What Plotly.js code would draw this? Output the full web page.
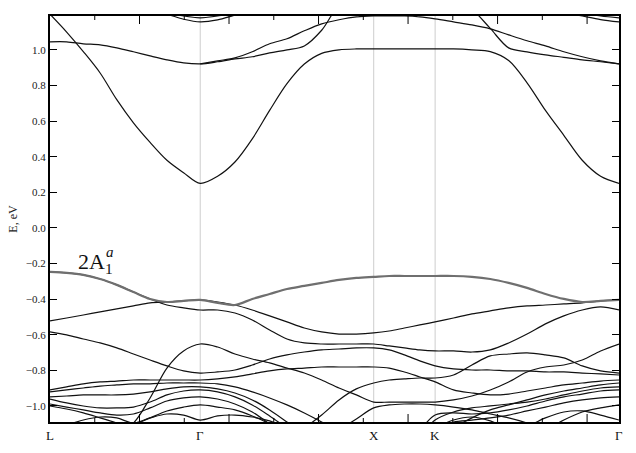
<!DOCTYPE html>
<html>
<head>
<meta charset="utf-8">
<script src="https://cdn.plot.ly/plotly-3.0.1.min.js"></script>
<style>html,body{margin:0;padding:0;background:#fff;}#chart{width:636px;height:453px;}</style>
</head>
<body>
<div id="chart"></div>
<script>
// k-path sample points (L -> Γ -> X -> K -> Γ)
const kGrid = [0,0.096,0.192,0.289,0.385,0.481,0.577,0.674,0.770,0.866,
  0.966,1.066,1.166,1.266,1.366,1.466,1.566,1.666,1.766,1.866,
  1.955,2.043,2.132,2.220,
  2.326,2.432,2.538,2.644,2.750,2.856,2.962,3.068,3.174,3.280];
const kPoints = [0, 0.866, 1.866, 2.220, 3.280];
const kLabels = ['L', 'Γ', 'X', 'K', 'Γ'];
// positions of the plain k-axis tick marks (long and short)
const kMajorTicks = [0.516, 1.032, 1.548, 2.064, 2.580, 3.096];
const kMinorTicks = [0.258, 0.774, 1.290, 1.806, 2.322, 2.838];

// conduction bands (eV)
const C1 = [1.20,1.10,0.99,0.87,0.72,0.59,0.48,0.38,0.31,0.25, 0.29,0.37,0.50,0.66,0.81,0.92,0.98,1.00,1.005,1.005, 1.005,1.005,1.005,1.005, 1.005,1.0,0.99,0.94,0.815,0.66,0.52,0.38,0.29,0.25];
const C2 = [1.045,1.045,1.034,1.028,1.011,0.989,0.966,0.944,0.927,0.921, 0.933,0.949,0.961,0.983,1.0,1.022,1.11,1.25,1.30,1.30, 1.30,1.30,1.30,1.30, 1.30,1.23,1.12,1.011,0.989,0.972,0.958,0.944,0.933,0.921];
const C3 = [null,null,null,null,null,null,null,null,null,0.921, 0.938,0.955,0.989,1.034,1.062,1.107,1.146,1.169,1.185,1.19, 1.19,1.19,1.185,1.174, 1.157,1.14,1.118,1.084,1.051,1.022,0.989,0.961,0.938,0.921];
const T1 = [null,null,null,null,null,null,1.22,1.20,1.172,1.157, 1.168,1.195,1.22,null,null,null,null,null,null,null, null,null,null,null, null,null,null,null,null,null,null,null,null,null];
const T2 = [null,null,null,null,null,null,null,1.21,1.19,1.18, 1.19,1.21,null,null,null,null,null,null,null,null, null,null,null,null, null,null,null,null,null,null,null,null,null,null];
const T3 = [null,null,null,null,null,null,null,null,null,null, null,null,null,null,null,null,null,null,null,null, null,null,null,null, null,null,null,null,null,null,1.21,1.19,1.17,1.157];
const T4 = [null,null,null,null,null,null,null,null,null,null, null,null,null,null,null,null,null,null,null,null, null,null,null,null, null,null,null,null,null,null,null,1.21,1.19,1.18];

// valence bands (eV); G = highlighted 2A1a band
const G  = [-0.247,-0.253,-0.264,-0.287,-0.320,-0.360,-0.399,-0.416,-0.410,-0.404, -0.421,-0.433,-0.399,-0.371,-0.343,-0.326,-0.309,-0.292,-0.281,-0.275, -0.270,-0.270,-0.270,-0.270, -0.270,-0.275,-0.287,-0.309,-0.337,-0.371,-0.399,-0.416,-0.410,-0.404];
const B1 = [-0.522,-0.506,-0.489,-0.472,-0.455,-0.438,-0.421,-0.416,-0.410,-0.404, -0.416,-0.433,-0.461,-0.494,-0.528,-0.562,-0.584,-0.596,-0.596,-0.590, -0.579,-0.562,-0.545,-0.528, -0.506,-0.483,-0.466,-0.449,-0.438,-0.433,-0.427,-0.421,-0.410,-0.404];
const B2 = [-0.247,-0.253,-0.264,-0.287,-0.320,-0.360,-0.399,-0.433,-0.449,-0.461, -0.461,-0.478,-0.517,-0.573,-0.624,-0.646,-0.652,-0.652,-0.652,-0.652, -0.663,-0.674,-0.685,-0.691, -0.691,-0.697,-0.685,-0.646,-0.596,-0.539,-0.494,-0.461,-0.444,-0.461];
const B5 = [-0.584,-0.601,-0.624,-0.646,-0.674,-0.708,-0.742,-0.775,-0.803,-0.815, -0.809,-0.798,-0.770,-0.736,-0.713,-0.697,-0.685,-0.680,-0.674,-0.674, -0.685,-0.713,-0.747,-0.775, -0.792,-0.798,-0.798,-0.803,-0.803,-0.809,-0.809,-0.815,-0.820,-0.826];
const B6 = [-1.36,-1.315,-1.258,-1.208,-1.152,-1.096,-0.955,-0.787,-0.691,-0.652, -0.669,-0.708,-0.736,-0.758,-0.787,-0.815,-0.854,-0.899,-0.938,-0.978, -0.978,-0.978,-0.978,-0.978, -0.966,-0.944,-0.910,-0.865,-0.809,-0.781,-0.770,-0.742,-0.691,-0.652];
const B7 = [null,null,null,null,null,null,null,null,null,null, null,null,null,-1.275,-1.191,-1.124,-1.051,-0.966,-0.904,-0.871, -0.854,-0.848,-0.843,-0.843, -0.826,-0.770,-0.719,-0.708,-0.702,-0.713,-0.730,-0.775,-0.803,-0.815];
const LB3 = [-0.910,-0.893,-0.876,-0.865,-0.860,-0.854,-0.854,-0.854,-0.854,-0.854, -0.848,-0.837,-0.820,-0.803,-0.792,-0.787,-0.781,-0.781,-0.781,-0.781, -0.787,-0.809,-0.837,-0.865, -0.910,-0.927,-0.938,-0.933,-0.916,-0.899,-0.882,-0.871,-0.860,-0.854];
const LB4 = [-0.921,-0.910,-0.899,-0.888,-0.882,-0.876,-0.876,-0.871,-0.871,-0.871, -0.876,-0.893,-0.921,-0.955,-0.994,-1.039,-1.090,-1.146,-1.191,-1.219, -1.236,-1.247,-1.236,-1.191, -1.124,-1.067,-1.022,-0.994,-0.966,-0.938,-0.916,-0.899,-0.882,-0.871];
const LB5 = [-0.949,-0.944,-0.938,-0.938,-0.938,-0.933,-0.921,-0.904,-0.893,-0.893, -0.904,-0.927,-0.966,-1.022,-1.090,-1.163,-1.219,-1.247,-1.258,-1.258, -1.247,-1.219,-1.163,-1.079, -1.034,-1.011,-1.0,-0.989,-0.978,-0.961,-0.938,-0.916,-0.899,-0.893];
const LB6 = [-0.961,-0.983,-1.0,-1.011,-1.011,-1.006,-0.978,-0.938,-0.916,-0.910, -0.921,-0.949,-0.994,-1.056,-1.124,-1.191,-1.247,-1.275,-1.275,-1.275, -1.258,-1.219,-1.135,-1.051, -1.039,-1.045,-1.039,-1.022,-1.0,-0.972,-0.949,-0.933,-0.916,-0.910];
const LB7 = [-0.989,-1.006,-1.022,-1.039,-1.051,-1.045,-1.011,-0.972,-0.955,-0.949, -0.961,-0.989,-1.034,-1.101,-1.169,-1.225,-1.275,-1.292,-1.292,-1.292, -1.275,-1.236,-1.180,-1.124, -1.090,-1.079,-1.067,-1.051,-1.028,-1.006,-0.983,-0.966,-0.955,-0.949];
const LB8 = [-1.0,-1.017,-1.039,-1.067,-1.096,-1.135,-1.191,null,null,null, null,null,null,null,null,null,null,null,null,null, null,null,null,null, null,null,null,null,null,null,null,null,null,null];
const LB9 = [null,null,null,-1.191,-1.146,-1.107,-1.067,-1.028,-1.006,-0.994, -1.006,-1.022,-1.056,-1.101,-1.163,null,null,null,null,null, null,null,null,null, null,null,null,null,-1.191,-1.135,-1.079,-1.034,-1.011,-0.994];
const LB10 = [-1.135,-1.107,-1.079,-1.062,-1.067,-1.096,-1.067,-1.045,-1.051,-1.079, -1.056,-1.051,-1.062,-1.084,-1.124,null,null,null,null,null, null,null,null,-1.124, -1.079,-1.062,-1.084,-1.124,-1.113,-1.067,-1.034,-1.028,-1.051,-1.079];
const LB11 = [null,null,null,null,null,null,null,null,null,null, null,null,null,null,null,null,null,-1.135,-1.073,-1.011, -0.994,-0.989,-0.989,-0.994, -1.006,-1.022,-1.045,-1.067,-1.096,-1.135,null,null,null,null];

const blackBands = [C1, C2, C3, T1, T2, T3, T4, B1, B2, B5, B6, B7, LB3, LB4, LB5, LB6, LB7, LB8, LB9, LB10, LB11];

const traces = blackBands.map(function (band) {
  return {x: kGrid, y: band, type: 'scatter', mode: 'lines',
    line: {color: '#111', width: 1.2, shape: 'spline', smoothing: 0.9},
    hoverinfo: 'skip', showlegend: false, connectgaps: false};
});
traces.push({x: kGrid, y: G, type: 'scatter', mode: 'lines',
  line: {color: '#6f6f6f', width: 2.2, shape: 'spline', smoothing: 0.9},
  hoverinfo: 'skip', showlegend: false});

const serif = 'Liberation Serif, Times New Roman, serif';

// vertical guide lines at the inner high-symmetry points
const shapes = kPoints.slice(1, 4).map(function (k) {
  return {type: 'line', xref: 'x', yref: 'paper', x0: k, x1: k, y0: 0, y1: 1,
    layer: 'below', line: {color: '#cdcdcd', width: 1}};
});
// k-axis tick marks on bottom and top edges (pixel-sized, pointing inward)
function tickShape(k, len, top) {
  return {type: 'line', xref: 'x', yref: 'paper', ysizemode: 'pixel', yanchor: top ? 1 : 0,
    x0: k, x1: k, y0: 0, y1: top ? -len : len, layer: 'above', line: {color: '#000', width: 1}};
}
kMajorTicks.forEach(function (k) { shapes.push(tickShape(k, 8, false)); shapes.push(tickShape(k, 8, true)); });
kMinorTicks.forEach(function (k) { shapes.push(tickShape(k, 4, false)); shapes.push(tickShape(k, 4, true)); });

// high-symmetry point labels under the axis
const labelAnns = kPoints.map(function (k, i) {
  return {text: kLabels[i], xref: 'x', yref: 'paper', x: k, y: 0, xanchor: 'center', yanchor: 'top',
    yshift: -4, showarrow: false, font: {family: serif, size: 13, color: '#111'}};
});

const layout = {
  width: 636, height: 453,
  margin: {l: 50, r: 17, t: 16, b: 31},
  paper_bgcolor: '#fff', plot_bgcolor: '#fff',
  showlegend: false,
  xaxis: {
    range: [kPoints[0], kPoints[4]], ticks: '', showticklabels: false, showgrid: false, zeroline: false,
    showline: true, linecolor: '#000', linewidth: 2, mirror: true
  },
  yaxis: {
    range: [-1.09, 1.19], tickmode: 'linear', tick0: 0, dtick: 0.2, tickformat: '.1f',
    ticks: 'inside', ticklen: 7, tickcolor: '#000',
    showline: true, linecolor: '#000', linewidth: 2, mirror: 'ticks',
    showgrid: false, zeroline: false,
    tickfont: {family: serif, size: 11, color: '#222'},
    title: {text: 'E, eV', font: {family: serif, size: 12, color: '#222'}, standoff: 6}
  },
  shapes: shapes,
  annotations: labelAnns.concat([
    {text: '2A<sub>1</sub>', xref: 'x', yref: 'y', x: 0.15, y: -0.198, xanchor: 'left', yanchor: 'middle',
     showarrow: false, font: {family: serif, size: 22, color: '#111'}},
    {text: '<i>a</i>', xref: 'x', yref: 'y', x: 0.31, y: -0.138, xanchor: 'left', yanchor: 'middle',
     showarrow: false, font: {family: serif, size: 15, color: '#111'}}
  ])
};

Plotly.newPlot('chart', traces, layout, {displayModeBar: false, staticPlot: true});
</script>
</body>
</html>
